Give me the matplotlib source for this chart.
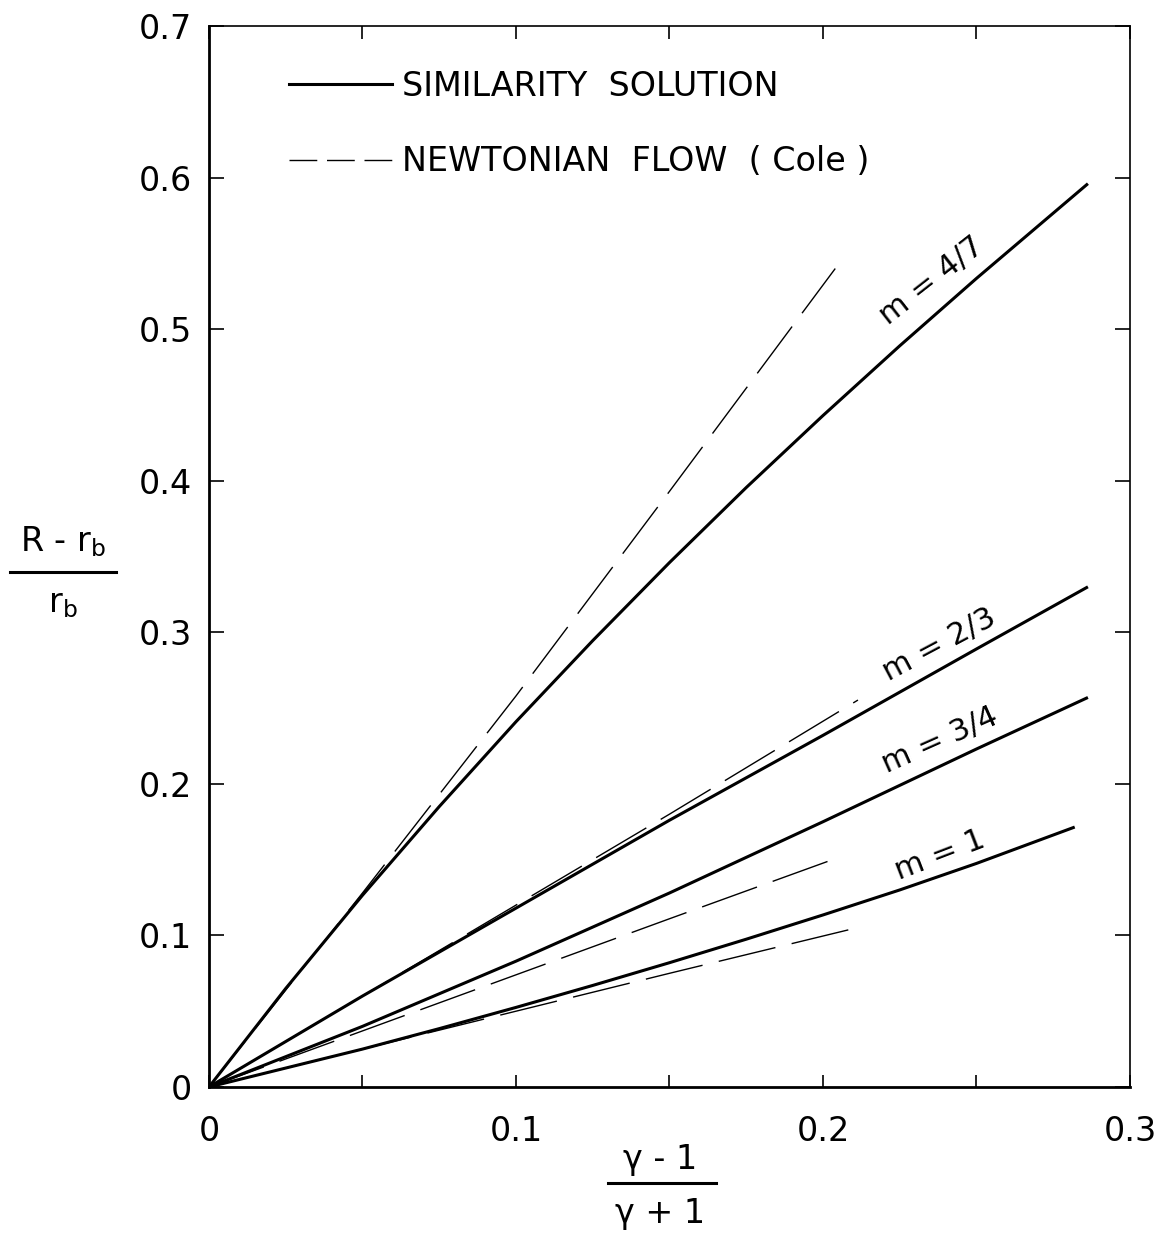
import numpy as np
import matplotlib
matplotlib.use('Agg')
import matplotlib.pyplot as plt
from matplotlib.lines import Line2D

plt.rcParams['font.family'] = 'DejaVu Sans'
plt.rcParams['mathtext.default'] = 'regular'

# similarity solution, shock stand-off vs (gamma-1)/(gamma+1)
x_sim_47 = [0, 0.025, 0.05, 0.075, 0.1, 0.125, 0.15, 0.175, 0.2, 0.225, 0.25, 0.2863]
y_sim_47 = [0, 0.065, 0.1265, 0.185, 0.241, 0.2945, 0.346, 0.3955, 0.443, 0.489, 0.5335, 0.596]
x_sim_23 = [0, 0.05, 0.1, 0.15, 0.2, 0.25, 0.2863]
y_sim_23 = [0, 0.060, 0.118, 0.176, 0.232, 0.289, 0.330]
x_sim_34 = [0, 0.05, 0.1, 0.15, 0.2, 0.25, 0.2863]
y_sim_34 = [0, 0.040, 0.083, 0.128, 0.175, 0.223, 0.257]
x_sim_1 = [0, 0.05, 0.075, 0.1, 0.125, 0.15, 0.175, 0.2, 0.225, 0.25, 0.282]
y_sim_1 = [0, 0.025, 0.0385, 0.0525, 0.067, 0.082, 0.0975, 0.1135, 0.130, 0.1475, 0.1715]

# newtonian flow (Cole)
x_newt_47 = [0, 0.05, 0.1, 0.15, 0.204]
y_newt_47 = [0, 0.128, 0.258, 0.393, 0.540]
x_newt_23 = [0, 0.05, 0.1, 0.15, 0.2114]
y_newt_23 = [0, 0.060, 0.120, 0.180, 0.2553]
x_newt_34 = [0, 0.05, 0.1, 0.15, 0.2045]
y_newt_34 = [0, 0.037, 0.074, 0.111, 0.151]
x_newt_1 = [0, 0.05, 0.1, 0.15, 0.212]
y_newt_1 = [0, 0.025, 0.050, 0.075, 0.1055]

m_labels = ['m = 4/7', 'm = 2/3', 'm = 3/4', 'm = 1']
label_x = [0.2355, 0.238, 0.238, 0.238]
label_y = [0.532, 0.2916, 0.229, 0.153]
label_rot = [38, 28, 24, 21]

fig = plt.figure(figsize=(11.63, 12.40), dpi=100)
ax = fig.add_axes([0.1797, 0.1234, 0.7919, 0.8556])

sims = [(x_sim_47, y_sim_47), (x_sim_23, y_sim_23), (x_sim_34, y_sim_34), (x_sim_1, y_sim_1)]
newts = [(x_newt_47, y_newt_47), (x_newt_23, y_newt_23), (x_newt_34, y_newt_34), (x_newt_1, y_newt_1)]

for xs, ys in sims:
    ax.plot(xs, ys, color='black', lw=2.2, solid_capstyle='butt')
for xs, ys in newts:
    ax.plot(xs, ys, color='black', lw=1.0, dashes=(42, 12))

for txt, lx, ly, rot in zip(m_labels, label_x, label_y, label_rot):
    ax.text(lx, ly, txt, fontsize=22, rotation=rot, ha='center', va='center',
            rotation_mode='anchor')

ax.set_xlim(0, 0.3)
ax.set_ylim(0, 0.7)
ax.set_xticks([0, 0.1, 0.2, 0.3])
ax.set_xticklabels(['0', '0.1', '0.2', '0.3'])
ax.set_xticks([0.05, 0.15, 0.25], minor=True)
ax.set_yticks(np.arange(0, 0.71, 0.1))
ax.set_yticklabels(['0', '0.1', '0.2', '0.3', '0.4', '0.5', '0.6', '0.7'])
ax.tick_params(axis='both', which='both', direction='in', top=True, right=True,
               labelsize=24, width=1.2)
ax.tick_params(axis='x', which='both', length=9, pad=20)
ax.tick_params(axis='y', which='major', length=11, pad=12)
for s in ['left', 'bottom']:
    ax.spines[s].set_linewidth(2.0)
for s in ['top', 'right']:
    ax.spines[s].set_linewidth(1.2)

# legend
handles = [Line2D([], [], color='black', lw=2.2),
           Line2D([], [], color='black', lw=1.0, dashes=(20, 7))]
ax.legend(handles, ['SIMILARITY  SOLUTION', 'NEWTONIAN  FLOW  ( Cole )'],
          loc='upper left', bbox_to_anchor=(0.087, 0.9585), frameon=False,
          fontsize=24, handlelength=3.1, handletextpad=0.3, labelspacing=1.27,
          borderpad=0, borderaxespad=0)

# y axis label as a stacked fraction
fig.text(63 / 1163, 1 - 542 / 1240, 'R - r$_b$', fontsize=24, ha='center', va='center')
fig.add_artist(Line2D([10 / 1163, 116 / 1163], [1 - 572 / 1240, 1 - 572 / 1240],
                      color='black', lw=2.2))
fig.text(63 / 1163, 1 - 603 / 1240, 'r$_b$', fontsize=24, ha='center', va='center')

# x axis label as a stacked fraction
fig.text(660 / 1163, 1 - 1160 / 1240, 'γ - 1', fontsize=24, ha='center', va='center')
fig.add_artist(Line2D([608 / 1163, 716 / 1163], [1 - 1183 / 1240, 1 - 1183 / 1240],
                      color='black', lw=2.2))
fig.text(660 / 1163, 1 - 1214 / 1240, 'γ + 1', fontsize=24, ha='center', va='center')

fig.savefig('out.png', dpi=100, facecolor='white')
